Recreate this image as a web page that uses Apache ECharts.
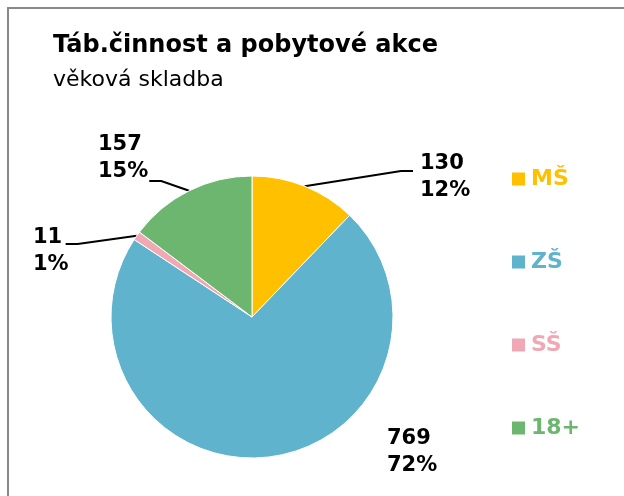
<!DOCTYPE html>
<html>
<head>
<meta charset="utf-8">
<script src="https://cdn.jsdelivr.net/npm/echarts@6/dist/echarts.min.js"></script>
<style>
  html, body { margin: 0; padding: 0; background: #fff; }
  #main { width: 624px; height: 496px; }
</style>
</head>
<body>
<div id="main"></div>
<script>
var categories = ['MŠ', 'ZŠ', 'SŠ', '18+'];
var values = [130, 769, 11, 157];
var colors = ['#FFC000', '#5FB3CC', '#F0A8B5', '#6CB66F'];

// where each data label sits (left edge, vertical middle), same order as categories
var labelPos = [[420, 177], [387, 452], [33, 251], [98, 158]];
// leader end beside the label: side of label, gap, offset from label middle
var leaderEnd = [['left', 7, -6], null, ['right', -3, -7], ['right', 1, 23]];

var chart = echarts.init(document.getElementById('main'));
var font = '"DejaVu Sans", sans-serif';

var data = categories.map(function (name, i) {
  var item = { name: name, value: values[i], itemStyle: { color: colors[i] } };
  if (!leaderEnd[i]) item.labelLine = { show: false };
  return item;
});

var option = {
  animation: false,
  graphic: [{
    type: 'rect',
    shape: { x: 8, y: 8, width: 700, height: 600 },
    style: { fill: 'none', stroke: '#888', lineWidth: 2 },
    silent: true
  }],
  title: {
    text: 'Táb.činnost a pobytové akce',
    subtext: 'věková skladba',
    left: 48,
    top: 29,
    itemGap: 11,
    textStyle: { fontFamily: font, fontSize: 24, fontWeight: 'bold', color: '#000' },
    subtextStyle: { fontFamily: font, fontSize: 22, color: '#000' }
  },
  legend: {
    orient: 'vertical',
    left: 505,
    top: 163,
    itemGap: 61,
    itemWidth: 15,
    itemHeight: 15,
    icon: 'rect',
    textStyle: { fontFamily: font, fontSize: 22, fontWeight: 'bold' },
    data: categories.map(function (name, i) {
      return { name: name, textStyle: { color: colors[i] } };
    })
  },
  series: [{
    type: 'pie',
    center: [252, 317],
    radius: 141,
    startAngle: 90,
    clockwise: true,
    percentPrecision: 0,
    data: data,
    itemStyle: { borderColor: '#fff', borderWidth: 1 },
    label: {
      show: true,
      position: 'outside',
      formatter: '{c}\n{d}%',
      fontFamily: font,
      fontSize: 21,
      fontWeight: 'bold',
      lineHeight: 27,
      color: '#000'
    },
    labelLine: {
      show: true,
      length: 20,
      length2: 20,
      lineStyle: { color: '#000', width: 2 }
    },
    labelLayout: function (p) {
      var i = p.dataIndex;
      var pos = labelPos[i];
      var out = { x: pos[0], y: pos[1], align: 'left', verticalAlign: 'middle' };
      var le = leaderEnd[i];
      if (le && p.labelLinePoints) {
        var w = p.labelRect.width;
        var ex = le[0] === 'left' ? pos[0] - le[1] : pos[0] + w + le[1];
        var ey = pos[1] + le[2];
        var bx = le[0] === 'left' ? ex - 12 : ex + 12;
        out.labelLinePoints = [p.labelLinePoints[0], [bx, ey], [ex, ey]];
      }
      return out;
    },
    emphasis: { disabled: true }
  }]
};

chart.setOption(option);
</script>
</body>
</html>
